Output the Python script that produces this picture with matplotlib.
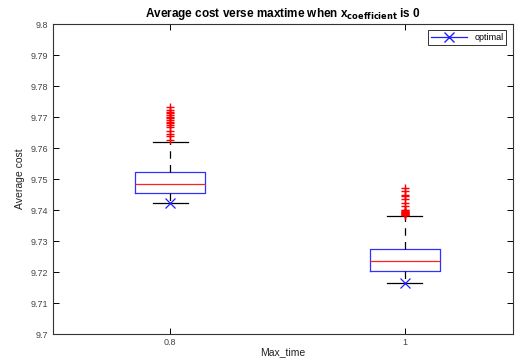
import matplotlib

matplotlib.use("Agg")

import matplotlib.pyplot as plt

plt.rcParams["font.family"] = ["Liberation Sans", "DejaVu Sans"]

max_times = ["0.8", "1"]
q1 = [9.7454, 9.7204]
medians = [9.7483, 9.7235]
q3 = [9.7522, 9.7273]
whisker_low = [9.7424, 9.7164]
whisker_high = [9.7620, 9.7381]
outliers_08 = [9.7733, 9.7723, 9.7717, 9.7712, 9.7706, 9.7701, 9.7696, 9.7690,
               9.7685, 9.7680, 9.7674, 9.7669, 9.7656, 9.7647, 9.7640, 9.7626]
outliers_1 = [9.7471, 9.7460, 9.7449, 9.7444, 9.7435, 9.7423, 9.7412, 9.7401,
              9.7399, 9.7397, 9.7395, 9.7394, 9.7392, 9.7390, 9.7388, 9.7387,
              9.7385, 9.7384]
optimal = [9.7424, 9.7164]

stats = []
for i, fl in enumerate([outliers_08, outliers_1]):
    stats.append({
        "med": medians[i], "q1": q1[i], "q3": q3[i],
        "whislo": whisker_low[i], "whishi": whisker_high[i], "fliers": fl,
    })

fig = plt.figure(figsize=(5.17, 3.6), dpi=100)
ax = fig.add_axes([0.1025, 0.072, 0.889, 0.861])

pos = [1, 2]
ax.bxp(
    stats, positions=pos, widths=0.3,
    boxprops=dict(color="#3030ff", linewidth=0.9),
    medianprops=dict(color="#ff2020", linewidth=0.9),
    whiskerprops=dict(color="black", linestyle=(0, (6, 5)), linewidth=0.9),
    capprops=dict(color="black", linewidth=0.9),
    capwidths=0.15,
    flierprops=dict(marker="+", markeredgecolor="red", markersize=6, markeredgewidth=1.0),
)
ax.plot(pos, optimal, linestyle="none", marker="x", color="#2020ff",
        markersize=7, markeredgewidth=0.9)
ax.plot([], [], color="#2020ff", marker="x", markersize=7, linewidth=0.9, label="optimal")

ax.set_xlim(0.5, 2.46)
ax.set_ylim(9.7, 9.8)
ax.set_xticks(pos)
ax.set_xticklabels(max_times)
ax.set_yticks([9.7 + 0.01 * k for k in range(11)])
ax.set_yticklabels(["9.7", "9.71", "9.72", "9.73", "9.74", "9.75", "9.76",
                    "9.77", "9.78", "9.79", "9.8"])
ax.tick_params(direction="in", top=True, right=True, labelsize=6.5,
               labelcolor="#444444", length=4, width=0.7)
ax.tick_params(axis="x", pad=3)
for s in ax.spines.values():
    s.set_linewidth(0.8)
    s.set_color("#333333")

ax.set_xlabel("Max_time", fontsize=7.5, color="#222222", labelpad=0)
ax.set_ylabel("Average cost", fontsize=7.5, color="#222222", labelpad=4)
ax.set_title(r"Average cost verse maxtime when x$_{\bf coefficient}$ is 0",
             fontsize=8.5, fontweight="bold", pad=5)

leg = ax.legend(loc="upper right", fontsize=6.5, frameon=True, fancybox=False,
                edgecolor="black", borderpad=0.3, handlelength=4,
                borderaxespad=0.7)
leg.get_frame().set_linewidth(0.7)

fig.savefig("out.png", dpi=100)
